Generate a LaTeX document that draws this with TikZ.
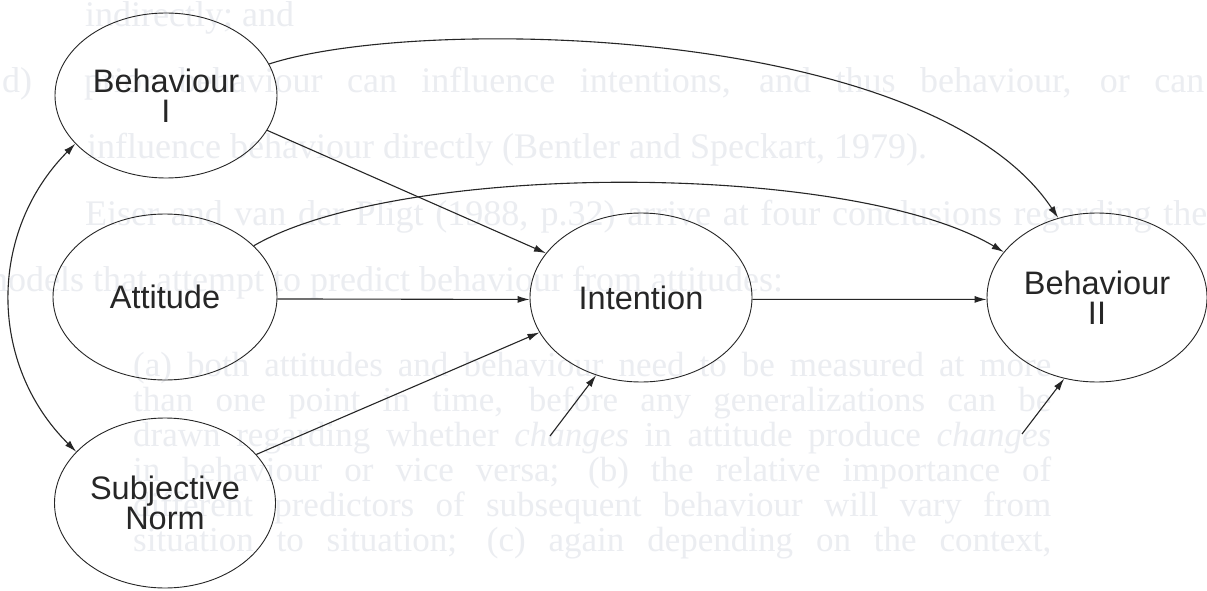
\documentclass[tikz,border=0pt]{standalone}
\usepackage{fontspec}
\setmainfont{Liberation Serif}
\newfontfamily\labelfont{Liberation Sans}
\usetikzlibrary{shapes.geometric,arrows.meta}

\definecolor{ink}{RGB}{38,38,38}
\definecolor{ghost}{RGB}{235,237,241}

\tikzset{
  x=1pt, y=-1pt,
  >={Latex[length=12pt,width=7pt]},
  construct/.style={ellipse, draw=ink, line width=0.9pt, inner sep=0pt,
    minimum width=222pt, minimum height=166pt, align=center, text=ink,
    font=\labelfont\fontsize{32.5}{30}\selectfont},
  link/.style={draw=ink, line width=1.1pt, ->},
  twoway/.style={draw=ink, line width=1.1pt, <->},
  ghostline/.style={anchor=base west, inner sep=0pt, text=ghost,
    font=\fontsize{36}{36}\selectfont},
  ghostblock/.style={anchor=base west, inner sep=0pt, text=ghost,
    font=\fontsize{35}{35}\selectfont},
}

\begin{document}
\begin{tikzpicture}
\useasboundingbox (0,0) rectangle (1207,591);
\fill[white] (0,0) rectangle (1207,591);

% running text of the page, faintly printed under the figure
\node[ghostline] (t1) at (85,27) {indirectly; and};
\node[ghostline] (t2a) at (2,93) {d)};
\node[ghostline] (t2) at (84,93) {\hbox to 1120pt{prior behaviour can influence intentions, and thus behaviour, or can}};
\node[ghostline] (t3) at (87,158) {influence behaviour directly (Bentler and Speckart, 1979).};
\node[ghostline] (t4) at (85,225) {\hbox to 1122pt{Eiser and van der Pligt (1988, p.32) arrive at four conclusions regarding the}};
\node[ghostline] (t5) at (-20,291) {models that attempt to predict behaviour from attitudes:};
\node[ghostblock] (q1) at (133,376) {\hbox to 918pt{(a) both attitudes and behaviour need to be measured at more}};
\node[ghostblock] (q2) at (133,411) {\hbox to 918pt{than one point in time, before any generalizations can be}};
\node[ghostblock] (q3) at (133,446) {\hbox to 918pt{drawn regarding whether \textit{changes} in attitude produce \textit{changes}}};
\node[ghostblock] (q4) at (133,481) {\hbox to 918pt{in behaviour or vice versa; (b) the relative importance of}};
\node[ghostblock] (q5) at (133,516) {\hbox to 918pt{different predictors of subsequent behaviour will vary from}};
\node[ghostblock] (q6) at (133,551) {\hbox to 918pt{situation to situation; (c) again depending on the context,}};

% constructs
\node[construct, minimum height=165pt] (bI) at (166,95.5) {Behaviour\\I};
\node[construct, minimum width=224pt] (att) at (165,297) {Attitude};
\node[construct, minimum width=221pt, minimum height=170pt] (sn) at (165,503) {Subjective\\Norm};
\node[construct, minimum height=169pt] (int) at (641,297.5) {Intention};
\node[construct, minimum width=220pt, minimum height=169pt] (bII) at (1097,297.5) {Behaviour\\II};

% free ends of the two unlabelled inputs
\coordinate (u1) at (550,436);
\coordinate (u2) at (1022,434);

% paths
\draw[link] (bI.17) .. controls (420,15) and (930,25) .. (bII.116);
\draw[link] (bI.-19) -- (int.155);
\draw[link] (att.30) .. controls (400,161) and (850,161) .. (bII.154);
\draw[link] (att.-1) -- (int.-179);
\draw[link] (sn.28) -- (int.-161);
\draw[link] (u1) -- (int.-120);
\draw[link] (int.-1) -- (bII.-179);
\draw[link] (u2) -- (bII.-112);
\draw[twoway] (bI.208) .. controls (-12,232) and (-12,364) .. (sn.150);
\end{tikzpicture}
\end{document}
